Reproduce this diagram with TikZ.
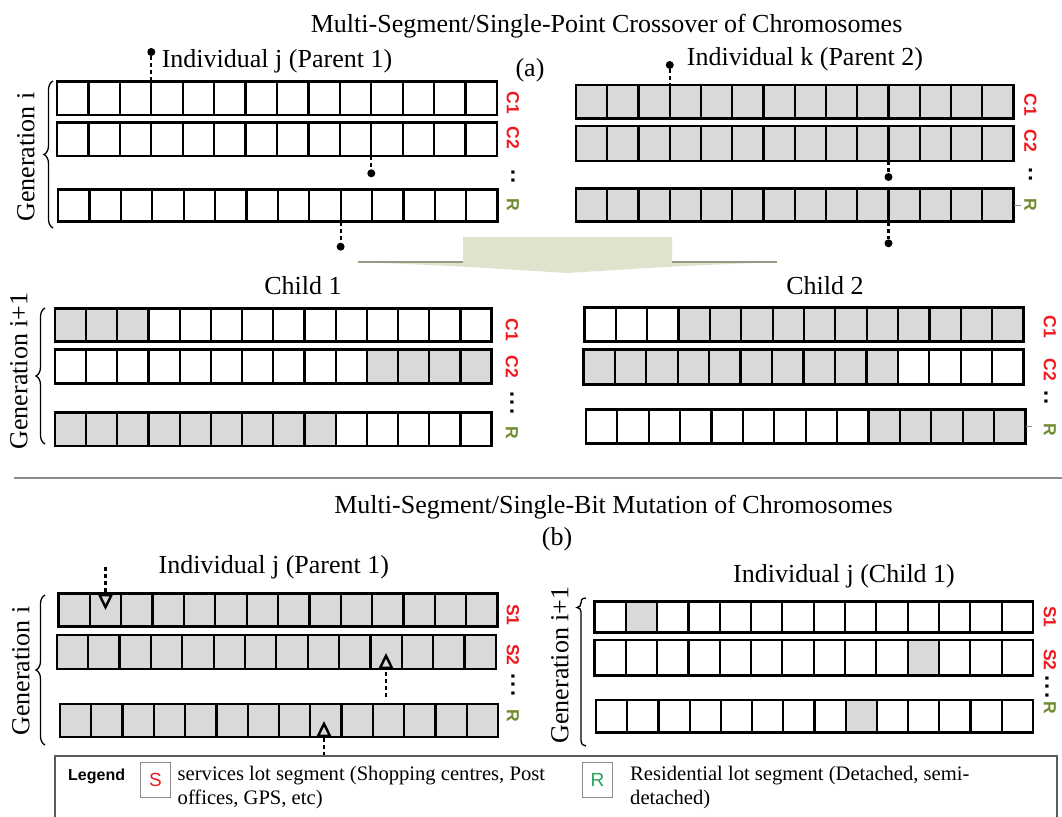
\documentclass[tikz,border=0pt]{standalone}
\usepackage{fontspec}
\setmainfont{Liberation Serif}
\setsansfont{Liberation Sans}
\usetikzlibrary{arrows.meta,decorations.pathreplacing,fit,calc}

\definecolor{cellgray}{RGB}{217,217,217}
\definecolor{segred}{RGB}{240,24,30}
\definecolor{resgreen}{RGB}{112,140,48}
\definecolor{keygreen}{RGB}{40,160,90}
\definecolor{arrowfill}{RGB}{222,227,206}
\definecolor{arrowedge}{RGB}{150,155,135}
\definecolor{rulegray}{RGB}{140,140,140}
\definecolor{boxgray}{RGB}{90,90,90}

% one chromosome: name, x0, y0, x1, y1, first and last grey cell (14 cells)
\newcommand\chrom[7]{%
  \pgfmathsetmacro\chromcw{(#4-#2)/14}%
  \fill[cellgray] ({#2+#6*\chromcw},#3) rectangle ({#2+(#7+1)*\chromcw},#5);
  \foreach \k in {1,...,13}{\draw[cellline] ({#2+\k*\chromcw},#3) -- ({#2+\k*\chromcw},#5);}
  \draw[rowline] (#2,#3) rectangle (#4,#5);
  \coordinate (#1-nw) at (#2,#3);
  \coordinate (#1-se) at (#4,#5);
  \node[fit=(#1-nw)(#1-se), inner sep=0pt] (#1) {};
}
% spaced dots between segment labels
\newcommand\twodots{.\kern2pt.}
\newcommand\threedots{.\kern2pt.\kern2pt.}

\begin{document}
\begin{tikzpicture}[x=1pt,y=-1pt,
  font=\fontsize{26}{30}\selectfont,
  cellline/.style={line width=2.2pt},
  rowline/.style={line width=2.6pt, line join=miter},
  dotmark/.style={circle, fill=black, inner sep=0pt, minimum size=8pt},
  markline/.style={line width=2.2pt, dash pattern=on 4pt off 3pt},
  mutarrow/.style={-{Triangle[open, length=16pt, width=15pt, line width=2.4pt]}},
  seglab/.style={font=\sffamily\bfseries\fontsize{17.5}{17.5}\selectfont, text=segred, rotate=-90, inner sep=0pt},
  reslab/.style={font=\sffamily\bfseries\fontsize{17.5}{17.5}\selectfont, text=resgreen, rotate=-90, inner sep=0pt},
  ellip/.style={font=\sffamily\bfseries\fontsize{22}{22}\selectfont, rotate=-90, inner sep=0pt},
  genlab/.style={rotate=90, inner sep=0pt},
  bracel/.style={decorate, decoration={brace, amplitude=9pt}, line width=1.3pt},
  txt/.style={inner sep=0pt, anchor=base},
  keybox/.style={draw=rulegray, line width=1pt, minimum width=30pt, minimum height=35pt, inner sep=0pt,
    font=\sffamily\fontsize{19}{19}\selectfont},
  legtext/.style={inner sep=0pt, anchor=north west, align=left, font=\fontsize{20.6}{24}\selectfont}]

\useasboundingbox (0,0) rectangle (1062,816);
\clip (0,0) rectangle (1062,816);

% ---------- (a) crossover ----------
\node[txt] (titlea) at (606.6,33) {Multi-Segment/Single-Point Crossover of Chromosomes};
\node[txt] (pa) at (277,67) {Individual j (Parent 1)};
\node[txt] (lbla) at (530,76) {(a)};
\node[txt] (pb) at (805,66) {Individual k (Parent 2)};

% parent 1
\chrom{P1a}{57}{81.7}{497}{115}{0}{-1}
\chrom{P1b}{57}{122.7}{497}{156}{0}{-1}
\chrom{P1r}{58}{189.3}{497.6}{221.7}{0}{-1}
\draw[bracel] (53,228) -- (53,81);
\node[genlab] (gen1) at (26,157) {Generation i};
\node[seglab] (p1c1) at (513,103) {C1};
\node[seglab] (p1c2) at (513,138) {C2};
\node[ellip] (p1el) at (513,177) {\twodots};
\node[reslab] (p1r) at (513,205) {R};

% parent 2
\chrom{P2a}{576}{85}{1013.5}{118.3}{0}{13}
\chrom{P2b}{576}{126}{1013.5}{161}{0}{13}
\chrom{P2r}{576}{188.3}{1013.5}{221.7}{0}{13}
\node[seglab] (p2c1) at (1030.5,105) {C1};
\node[seglab] (p2c2) at (1030.5,141) {C2};
\node[ellip] (p2el) at (1030.5,175) {\twodots};
\node[reslab] (p2r) at (1030.5,205) {R};
\draw[rulegray, line width=0.8pt] (P2r.east |- 0,205) -- ++(7,0);

% crossover points
\node[dotmark] (d1) at (151.3,52) {};
\draw[markline] (d1) -- (d1 |- P1a.north);
\node[dotmark] (d2) at (371.3,173.3) {};
\draw[markline] (P1b.south -| d2) -- (d2);
\node[dotmark] (d3) at (340.6,246.7) {};
\draw[markline] (P1r.south -| d3) -- (d3);
\node[dotmark] (d4) at (669.75,65) {};
\draw[markline] (d4) -- (d4 |- P2a.north);
\node[dotmark] (d5) at (888.5,177) {};
\draw[markline] (P2b.south -| d5) -- (d5);
\node[dotmark] (d6) at (888.5,243.3) {};
\draw[markline] (P2r.south -| d6) -- (d6);

% flat downward arrow
\fill[arrowfill] (463,237) -- (672,237) -- (672,262) -- (777,262)
  .. controls (680,266) .. (567,273) .. controls (455,266) .. (358,262) -- (463,262) -- cycle;
\draw[arrowedge, line width=1.2pt] (358,262) -- (463,262);
\draw[arrowedge, line width=1.2pt] (672,262) -- (777,262);

% children
\node[txt] (ch1) at (303,294) {Child 1};
\node[txt] (ch2) at (825,294) {Child 2};

\chrom{C1a}{55}{308.3}{491.7}{341.7}{0}{2}
\chrom{C1b}{55}{349.3}{491.7}{383.3}{10}{13}
\chrom{C1r}{55}{412.7}{491.7}{446}{0}{8}
\draw[bracel] (45,444) -- (45,308);
\node[genlab] (gen2) at (19,371) {Generation i+1};
\node[seglab] (c1c1) at (512,330) {C1};
\node[seglab] (c1c2) at (512,367) {C2};
\node[ellip] (c1el) at (512,403) {\threedots};
\node[reslab] (c1r) at (512,433) {R};

\chrom{C2a}{584.3}{307.7}{1023.7}{341.7}{3}{13}
\chrom{C2b}{583.3}{349.3}{1023.7}{384.3}{0}{9}
\chrom{C2r}{586}{409.3}{1025.4}{443.3}{9}{13}
\node[seglab] (c2c1) at (1050,327) {C1};
\node[seglab] (c2c2) at (1050,370) {C2};
\node[ellip] (c2el) at (1046,398) {\twodots};
\node[reslab] (c2r) at (1050,430) {R};
\draw[rulegray, line width=0.8pt] (C2r.east |- 0,426) -- ++(6,0);

% separator
\coordinate (sepl) at (14,478.3);
\coordinate (sepr) at (1062,478.3);
\draw[rulegray, line width=2pt] (sepl) -- (sepr);

% ---------- (b) mutation ----------
\node[txt] (titleb) at (613.5,513) {Multi-Segment/Single-Bit Mutation of Chromosomes};
\node[txt] (lblb) at (557,545) {(b)};
\node[txt] (mp) at (273.8,573) {Individual j (Parent 1)};
\node[txt] (mc) at (844,582) {Individual j (Child 1)};

\chrom{M1a}{58.5}{593.3}{497.6}{626.7}{0}{13}
\chrom{M1b}{56.8}{635}{495.9}{669}{0}{13}
\chrom{M1r}{60}{704}{498}{737}{0}{13}
\draw[bracel] (45,745) -- (45,595);
\node[genlab] (gen3) at (21,671) {Generation i};
\node[seglab] (m1s1) at (513,615) {S1};
\node[seglab] (m1s2) at (513,655) {S2};
\node[ellip] (m1el) at (513,685) {\threedots};
\node[reslab] (m1r) at (513,716) {R};

\coordinate (u1) at (105.5,567);
\coordinate (v1) at (105.5,610);
\draw[markline, mutarrow] (u1) -- (v1);
\coordinate (u2) at (386,697);
\coordinate (v2) at (386,653);
\draw[markline, mutarrow] (u2) -- (v2);
\coordinate (u3) at (324,756);
\coordinate (v3) at (324,721);
\draw[markline, mutarrow] (u3) -- (v3);

\chrom{M2a}{594.5}{601.7}{1032.9}{632.3}{1}{1}
\chrom{M2b}{594.5}{640}{1032.9}{675.7}{10}{10}
\chrom{M2r}{596}{700}{1033}{732.3}{8}{8}
\draw[line width=1.3pt] (586,598) .. controls (581,598) and (581,601) .. (581,603)
  .. controls (581,606) and (579.5,607) .. (577,607.5)
  .. controls (579.5,608) and (581,609) .. (581,612) -- (581,740)
  .. controls (581,744) and (583,746) .. (586,746);
\node[genlab] (gen4) at (560,665) {Generation i+1};
\node[seglab] (m2s1) at (1050,617) {S1};
\node[seglab] (m2s2) at (1050,660) {S2};
\node[ellip] (m2el) at (1047,687) {\threedots};
\node[reslab] (m2r) at (1050,708) {R};

% legend
\draw[boxgray, line width=1.2pt] (55,830) -- (55,756) -- (1057,756) -- (1057,830);
\node[inner sep=0pt, anchor=base west, font=\sffamily\bfseries\fontsize{16}{16}\selectfont] (leg) at (68,780) {Legend};
\node[keybox, text=segred] (keys) at (155.5,780) {S};
\node[legtext] (texts) at (177.5,765.5) {services lot segment (Shopping centres, Post\\offices, GPS, etc)};
\node[keybox, text=keygreen] (keyr) at (597.5,780) {R};
\node[legtext] (textr) at (630,765.5) {Residential lot segment (Detached, semi-\\detached)};

\end{tikzpicture}
\end{document}
